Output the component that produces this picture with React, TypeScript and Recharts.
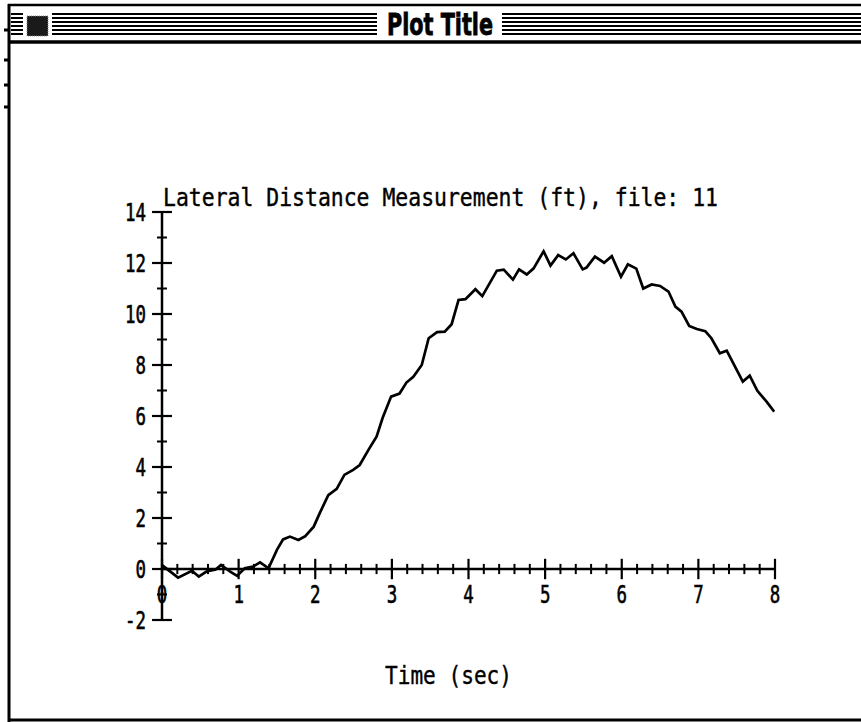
import { LineChart, Line, XAxis, YAxis, ReferenceLine } from 'recharts';

// readings: time (sec) and lateral distance (ft)
const times = [
  0, 0.21, 0.39, 0.48, 0.58, 0.7, 0.77, 0.89, 0.98, 1.08, 1.19, 1.28, 1.39, 1.5, 1.58, 1.67, 1.78, 1.87, 1.98,
  2.06, 2.17, 2.28, 2.38, 2.5, 2.58, 2.7, 2.8, 2.88, 2.99, 3.1, 3.19, 3.28, 3.39, 3.48, 3.59, 3.69, 3.78, 3.87,
  3.96, 4.09, 4.18, 4.37, 4.46, 4.58, 4.66, 4.76, 4.85, 4.98, 5.07, 5.17, 5.27, 5.37, 5.49, 5.54, 5.65, 5.77,
  5.87, 5.99, 6.08, 6.19, 6.28, 6.39, 6.5, 6.61, 6.7, 6.78, 6.88, 6.98, 7.09, 7.17, 7.28, 7.37, 7.48, 7.58,
  7.67, 7.77, 7.89, 7.99,
];
const distance = [
  0.15, -0.34, -0.07, -0.3, -0.1, -0.02, 0.16, -0.1, -0.27, 0.03, 0.1, 0.26, 0.03, 0.75, 1.16, 1.27, 1.14, 1.29, 1.66,
  2.2, 2.9, 3.14, 3.69, 3.9, 4.08, 4.7, 5.19, 5.93, 6.76, 6.88, 7.31, 7.54, 8.0, 9.05, 9.29, 9.31, 9.6, 10.55,
  10.58, 10.97, 10.7, 11.7, 11.74, 11.35, 11.75, 11.55, 11.79, 12.46, 11.9, 12.31, 12.14, 12.38, 11.75, 11.82, 12.25, 12.01,
  12.27, 11.46, 11.95, 11.78, 11.0, 11.16, 11.1, 10.88, 10.29, 10.09, 9.53, 9.41, 9.33, 9.05, 8.46, 8.56, 7.93, 7.35,
  7.58, 6.99, 6.56, 6.17,
];

const xMajorTicks = [0, 1, 2, 3, 4, 5, 6, 7, 8];
const xMinorTicks = [
  0.2, 0.4, 0.6, 0.8, 1.2, 1.4, 1.6, 1.8, 2.2, 2.4, 2.6, 2.8, 3.2, 3.4, 3.6, 3.8,
  4.2, 4.4, 4.6, 4.8, 5.2, 5.4, 5.6, 5.8, 6.2, 6.4, 6.6, 6.8, 7.2, 7.4, 7.6, 7.8,
];
const yMajorTicks = [-2, 0, 2, 4, 6, 8, 10, 12, 14];
const yMinorTicks = [-1, 1, 3, 5, 7, 9, 11, 13];

const windowTitle = 'Plot Title';
const chartTitle = 'Lateral Distance Measurement (ft), file: 11';
const xAxisTitle = 'Time (sec)';

const data = times.map((t, i) => ({ t, v: distance[i] }));

const MONO = '"DejaVu Sans Mono", "Liberation Mono", monospace';
const stripes = [14, 18, 22, 26, 30, 34];

function YTick(props: any) {
  const { x, y, payload } = props;
  const s = String(payload.value);
  return (
    <text x={x} y={y} dy="0.36em" textAnchor="end" fontFamily={MONO} fontSize={25} fill="#000"
      stroke="#000" strokeWidth={0.6} textLength={s.length * 10.5} lengthAdjust="spacingAndGlyphs">{s}</text>
  );
}

const xLabel = (s: string) => (p: any) => {
  const vb = p.viewBox;
  return (
    <text x={vb.x + vb.width / 2} y={vb.y + vb.height + 24} textAnchor="middle" fontFamily={MONO} fontSize={25}
      fill="#000" stroke="#000" strokeWidth={0.6} textLength={s.length * 10.5}
      lengthAdjust="spacingAndGlyphs">{s}</text>
  );
};

function WindowFrame() {
  return (
    <svg width={861} height={722} style={{ position: 'absolute', left: 0, top: 0, pointerEvents: 'none' }}>
      {stripes.map(y => (
        <line key={y} x1={11} x2={861} y1={y} y2={y} stroke="#000" strokeWidth={1.8} />
      ))}
      <rect x={23} y={11} width={29} height={27} fill="#fff" />
      <rect x={27} y={16} width={21} height={20} fill="#1a1a1a" stroke="#888" strokeDasharray="1 1" />
      <rect x={377} y={11} width={125} height={27} fill="#fff" />
      <text x={387} y={35} fontFamily='"DejaVu Sans", sans-serif' fontWeight="bold" fontSize={30} fill="#000"
        stroke="#000" strokeWidth={0.8} textLength={106} lengthAdjust="spacingAndGlyphs">{windowTitle}</text>
      <line x1={8} x2={861} y1={5} y2={5} stroke="#000" strokeWidth={2.5} />
      <line x1={8} x2={861} y1={42} y2={42} stroke="#000" strokeWidth={3.5} />
      <line x1={9} x2={9} y1={4} y2={722} stroke="#000" strokeWidth={3} />
      <line x1={8} x2={861} y1={720} y2={720} stroke="#000" strokeWidth={3} />
      {[30, 60, 85, 107].map(y => (
        <line key={y} x1={4} x2={8} y1={y} y2={y} stroke="#000" strokeWidth={3} />
      ))}
      <text x={163} y={206} fontFamily={MONO} fontSize={25} fill="#000" stroke="#000" strokeWidth={0.4}
        textLength={555} lengthAdjust="spacingAndGlyphs">{chartTitle}</text>
      <text x={385} y={684} fontFamily={MONO} fontSize={25} fill="#000" stroke="#000" strokeWidth={0.4}
        textLength={127} lengthAdjust="spacingAndGlyphs">{xAxisTitle}</text>
    </svg>
  );
}

export default function App() {
  return (
    <div style={{ position: 'absolute', left: 0, top: 0, width: 861, height: 722, background: '#fff' }}>
      <LineChart width={861} height={722} data={data} margin={{ top: 212, right: 86, bottom: 102, left: 122 }}>
        <XAxis type="number" dataKey="t" domain={[0, 8]} hide allowDataOverflow />
        <YAxis type="number" domain={[-2, 14]} ticks={yMajorTicks} interval={0} width={40} tickLine={false}
          tickSize={6} tickMargin={10} axisLine={{ stroke: '#000', strokeWidth: 2.5 }} tick={YTick} />
        <ReferenceLine y={0} stroke="#000" strokeWidth={2.5} />
        {xMinorTicks.map(t => (
          <ReferenceLine key={'xm' + t} segment={[{ x: t, y: -0.2 }, { x: t, y: 0.2 }]} stroke="#000"
            strokeWidth={2} ifOverflow="visible" />
        ))}
        {xMajorTicks.map(t => (
          <ReferenceLine key={'xM' + t} segment={[{ x: t, y: -0.4 }, { x: t, y: 0.4 }]} stroke="#000"
            strokeWidth={2.2} ifOverflow="visible" label={{ content: xLabel(String(t)) }} />
        ))}
        {yMinorTicks.map(v => (
          <ReferenceLine key={'ym' + v} segment={[{ x: -0.065, y: v }, { x: 0.065, y: v }]} stroke="#000"
            strokeWidth={2} ifOverflow="visible" />
        ))}
        {yMajorTicks.map(v => (
          <ReferenceLine key={'yM' + v} segment={[{ x: -0.13, y: v }, { x: 0.13, y: v }]} stroke="#000"
            strokeWidth={2.2} ifOverflow="visible" />
        ))}
        <Line type="linear" dataKey="v" stroke="#000" strokeWidth={2.7} dot={false} isAnimationActive={false} />
      </LineChart>
      <WindowFrame />
    </div>
  );
}
